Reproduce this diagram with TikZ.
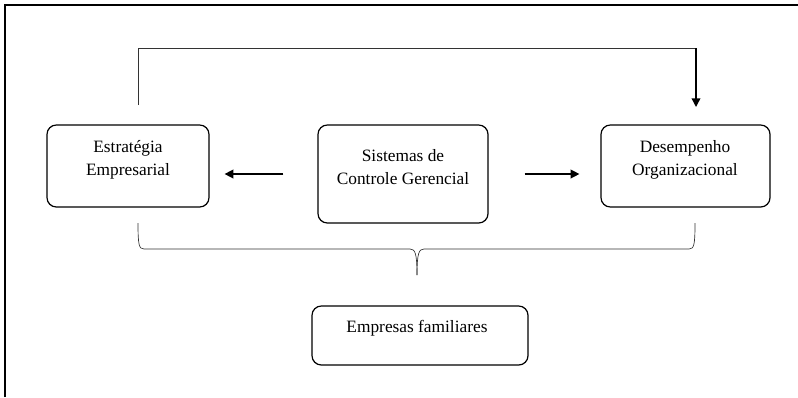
\documentclass[tikz,border=0pt]{standalone}
\usepackage{fontspec}
\setmainfont{Liberation Serif}
\usetikzlibrary{arrows.meta, positioning, calc}

\begin{document}
\begin{tikzpicture}[
    x=0.75pt, y=-0.75pt,
    box/.style={draw, rounded corners=7pt, line width=0.9pt, inner sep=0pt},
    txt/.style={align=center, inner sep=0pt, font=\fontsize{13}{17.25}\selectfont},
    link/.style={line width=0.5pt, draw=black!80},
    arrow/.style={line width=1pt, ->},
    >={Triangle[length=6.5pt, width=6.5pt]}
]
\useasboundingbox (0,0) rectangle (798,397);
\draw[line width=0.9pt] (5,397) -- (5,5) -- (798,5);

\node (estr)    at (128, 166)   [box, minimum width=121.5pt, minimum height=61.5pt]  {};
\node (sist)    at (403, 174)   [box, minimum width=127.5pt, minimum height=73.5pt]  {};
\node (des)     at (685.5, 166) [box, minimum width=126.75pt, minimum height=61.5pt] {};
\node (emp)     at (420, 335.5) [box, minimum width=162pt, minimum height=44.25pt]   {};

\node (estrtxt) at (128, 160)   [txt] {Estratégia\\Empresarial};
\node (sisttxt) at (403, 167)   [txt] {Sistemas de\\Controle Gerencial};
\node (destxt)  at (685, 160)   [txt] {Desempenho\\Organizacional};
\node (emptxt)  at (417, 328)   [txt] {Empresas familiares};

\draw[arrow, shorten <=25.5pt, shorten >=11.25pt] (sist.west) -- (sist.west -| estr.east);
\draw[arrow, shorten <=27pt, shorten >=15.75pt] (sist.east) -- (sist.east -| des.west);

% feedback line on top
\coordinate (fb) at (138, 105);
\coordinate (fm) at (696, 48);
\coordinate (fe) at (696, 107);
\draw[link] (fb) |- (fm);
\draw[arrow] (fm) -- (fe);

% brace under the three boxes
\coordinate (bl) at (138, 223);
\coordinate (br) at (695, 223);
\coordinate (bt) at (417, 275);
\draw[link] (bl) .. controls ($(bl)+(0,22)$) and ($(bl)+(1,26)$) .. ($(bl)+(6,26)$)
    -- ($(bt)+(-7,-26)$) .. controls ($(bt)+(-2,-26)$) and ($(bt)+(0,-22)$) .. (bt);
\draw[link] (br) .. controls ($(br)+(0,22)$) and ($(br)+(-1,26)$) .. ($(br)+(-6,26)$)
    -- ($(bt)+(7,-26)$) .. controls ($(bt)+(2,-26)$) and ($(bt)+(0,-22)$) .. (bt);
\end{tikzpicture}
\end{document}
